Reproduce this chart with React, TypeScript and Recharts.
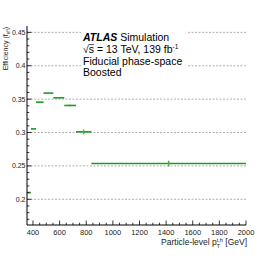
import React from "react";
import { ComposedChart, Scatter, XAxis, YAxis, ErrorBar, ReferenceLine } from "recharts";

// Bin edges (particle-level top pT, GeV)
const binLow = [355, 385, 423, 479, 553, 635, 723, 838];
const binHigh = [385, 423, 479, 553, 635, 723, 838, 2000];
// Efficiency values and statistical errors
const efficiency = [0.21, 0.3055, 0.3455, 0.359, 0.352, 0.3405, 0.301, 0.2535];
const effError = [0.0008, 0.0008, 0.001, 0.001, 0.0012, 0.0015, 0.0035, 0.0043];

const xMajorTicks = [400, 600, 800, 1000, 1200, 1400, 1600, 1800, 2000];
const yMajorTicks = [0.2, 0.25, 0.3, 0.35, 0.4, 0.45];

const X_DOMAIN: [number, number] = [355, 2000];
const Y_DOMAIN: [number, number] = [0.1615, 0.4595];

const xAllTicks: number[] = [];
for (let v = 400; v <= 2000; v += 50) xAllTicks.push(v);
const yAllTicks: number[] = [];
for (let i = 17; i <= 45; i++) yAllTicks.push(i / 100);

const points = binLow.map((lo, i) => ({
  x: (lo + binHigh[i]) / 2,
  y: efficiency[i],
  xErr: (binHigh[i] - lo) / 2,
  yErr: effError[i],
}));

const FONT = "'Liberation Sans', Arial, Helvetica, sans-serif";
const GREEN = "#1f9a1f";
const PLOT_LEFT = 27;
const PLOT_BOTTOM = 225;

const isMajorY = (v: number) => yMajorTicks.some((m) => Math.abs(m - v) < 1e-6);
const isMajorX = (v: number) => xMajorTicks.includes(v);

const YTick = (props: any) => {
  const { y, payload } = props;
  const v = payload.value;
  const major = isMajorY(v);
  return (
    <g>
      <line x1={PLOT_LEFT} x2={PLOT_LEFT + (major ? 4.5 : 2.3)} y1={y} y2={y} stroke="#000" strokeWidth={0.8} />
      {major && (
        <text x={PLOT_LEFT - 1.5} y={y} textAnchor="end" dominantBaseline="central" fontSize={7} fontFamily={FONT} fill="#222">
          {String(v)}
        </text>
      )}
    </g>
  );
};

const XTick = (props: any) => {
  const { x, payload } = props;
  const v = payload.value;
  const major = isMajorX(v);
  return (
    <g>
      <line x1={x} x2={x} y1={PLOT_BOTTOM} y2={PLOT_BOTTOM - (major ? 4.5 : 2.3)} stroke="#000" strokeWidth={0.8} />
      {major && (
        <text x={x} y={PLOT_BOTTOM + 7} textAnchor="middle" dominantBaseline="central" fontSize={7.5} fontFamily={FONT} fill="#222">
          {String(v)}
        </text>
      )}
    </g>
  );
};

export default function App() {
  return (
    <div style={{ position: "absolute", left: 0, top: 0, width: 274, height: 266, background: "#fff" }}>
      <ComposedChart width={274} height={266} data={points} margin={{ top: 26, right: 28, bottom: 0, left: 0 }}>
        {yMajorTicks.map((v) => (
          <ReferenceLine key={v} y={v} stroke="#9a9a9a" strokeDasharray="2 1.5" strokeWidth={0.8} />
        ))}
        <XAxis
          dataKey="x"
          type="number"
          domain={X_DOMAIN}
          allowDataOverflow
          ticks={xAllTicks}
          interval={0}
          height={41}
          tickSize={0}
          tickMargin={0}
          tickLine={false}
          axisLine={{ stroke: "#000", strokeWidth: 1 }}
          tick={(p: any) => <XTick {...p} />}
        />
        <XAxis
          xAxisId="top"
          orientation="top"
          type="number"
          domain={X_DOMAIN}
          height={0}
          tick={false}
          tickLine={false}
          axisLine={{ stroke: "#000", strokeWidth: 1 }}
        />
        <YAxis
          dataKey="y"
          type="number"
          domain={Y_DOMAIN}
          allowDataOverflow
          ticks={yAllTicks}
          interval={0}
          width={27}
          tickSize={0}
          tickMargin={0}
          tickLine={false}
          axisLine={{ stroke: "#000", strokeWidth: 1 }}
          tick={(p: any) => <YTick {...p} />}
        />
        <YAxis
          yAxisId="right"
          orientation="right"
          type="number"
          domain={Y_DOMAIN}
          width={0}
          tick={false}
          tickLine={false}
          axisLine={{ stroke: "#000", strokeWidth: 1 }}
        />
        <Scatter data={points} dataKey="y" isAnimationActive={false} shape={() => <g />}>
          <ErrorBar dataKey="xErr" direction="x" width={0} stroke={GREEN} strokeWidth={1.6} isAnimationActive={false} />
          <ErrorBar dataKey="yErr" direction="y" width={0} stroke="#3fb53f" strokeWidth={1.5} isAnimationActive={false} />
        </Scatter>
      </ComposedChart>
      <svg width={274} height={266} style={{ position: "absolute", left: 0, top: 0, pointerEvents: "none" }}>
        <rect x={81} y={28} width={107} height={52} fill="#fff" />
        <text x={83} y={41} fontSize={10.5} fontFamily={FONT} fill="#000">
          <tspan fontWeight="bold" fontStyle="italic">ATLAS</tspan>
          <tspan> Simulation</tspan>
        </text>
        <line x1={88.6} x2={94} y1={44.6} y2={44.6} stroke="#000" strokeWidth={0.7} />
        <text x={83} y={52.5} fontSize={10.5} fontFamily={FONT} fill="#000">
          <tspan>√s = 13 TeV, 139 fb</tspan>
          <tspan dy={-4} fontSize={6.5}>-1</tspan>
        </text>
        <text x={83} y={64.5} fontSize={10.5} fontFamily={FONT} fill="#000">Fiducial phase-space</text>
        <text x={83} y={76} fontSize={10.5} fontFamily={FONT} fill="#000">Boosted</text>
        <text x={8} y={27} transform="rotate(-90 8 27)" textAnchor="end" fontSize={7} fontFamily={FONT} fill="#222">
          <tspan>Efficiency (f</tspan>
          <tspan dy={1.5} fontSize={4.5}>eff</tspan>
          <tspan dy={-1.5}>)</tspan>
        </text>
        <text x={247} y={245} textAnchor="end" fontSize={8.5} fontFamily={FONT} fill="#222">
          <tspan>Particle-level p</tspan>
          <tspan dy={-3.5} fontSize={5.5}>t,h</tspan>
          <tspan dx={-6.1} dy={6} fontSize={5.5}>T</tspan>
          <tspan dx={2.7} dy={-2.5}> [GeV]</tspan>
        </text>
      </svg>
    </div>
  );
}
